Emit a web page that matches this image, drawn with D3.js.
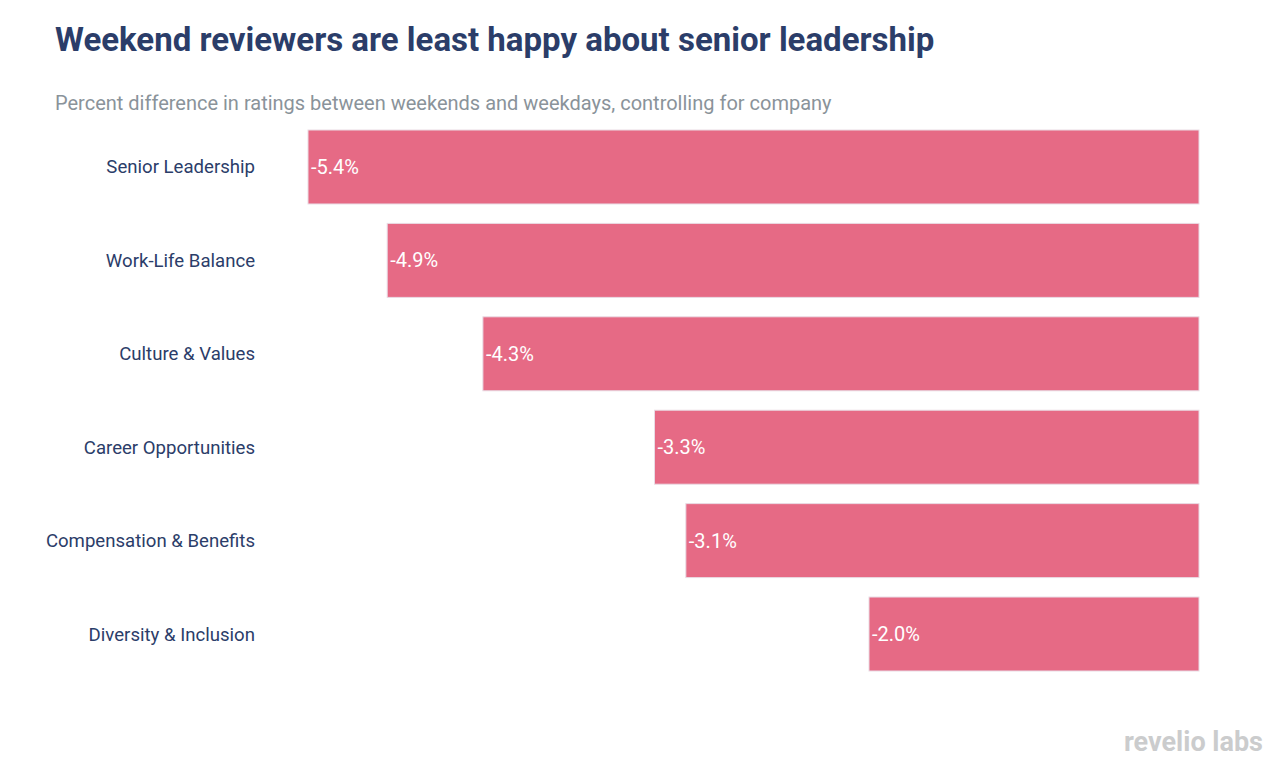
<!DOCTYPE html>
<html>
<head>
    <meta charset="utf-8">
    <title>Weekend reviewers</title>
    <script type="text/javascript" src="https://d3js.org/d3.v7.min.js"></script>
    <style>
      body { margin: 0; background: #fff; font-family: Roboto, "Noto Sans", sans-serif; }
    </style>
</head>
<body>
<script type="text/javascript">
        var width = 1282
        var height = 770

        var categories = ["Senior Leadership", "Work-Life Balance", "Culture & Values",
                          "Career Opportunities", "Compensation & Benefits", "Diversity & Inclusion"]
        var values = [-5.40, -4.92, -4.34, -3.30, -3.11, -2.00]

        var svg = d3.select("body").append("svg").attr("width", width).attr("height", height)

        svg.append("text")
            .attr("x", 55).attr("y", 51)
            .attr("font-size", 33).attr("font-weight", "bold")
            .attr("fill", "#2b3d69")
            .text("Weekend reviewers are least happy about senior leadership")

        svg.append("text")
            .attr("x", 55).attr("y", 110)
            .attr("font-size", 20)
            .attr("fill", "#8a939a")
            .text("Percent difference in ratings between weekends and weekdays, controlling for company")

        var x = d3.scaleLinear().domain([-5.4, 0]).range([308, 1199])
        var y = d3.scaleBand().domain(categories).range([130, 671]).paddingInner(0.208).paddingOuter(0)

        var data = categories.map(function(c, i) { return {cat: c, val: values[i]} })

        svg.selectAll(".bar")
            .data(data)
            .enter()
            .append("rect")
            .attr("class", "bar")
            .attr("x", function(d) { return x(d.val) })
            .attr("y", function(d) { return y(d.cat) })
            .attr("width", function(d) { return x(0) - x(d.val) })
            .attr("height", y.bandwidth())
            .attr("fill", "#e66a85")
            .attr("stroke", "#e9dbe4")
            .attr("stroke-width", 1)

        // plain hyphen like the original, not d3's unicode minus
        var fmt = function(v) { return v.toFixed(1) }
        svg.selectAll(".val")
            .data(data)
            .enter()
            .append("text")
            .attr("class", "val")
            .attr("x", function(d) { return x(d.val) + 3 })
            .attr("y", function(d) { return y(d.cat) + y.bandwidth() / 2 })
            .attr("dy", "0.35em")
            .attr("font-size", 20)
            .attr("fill", "#fff")
            .text(function(d) { return fmt(d.val) + "%" })

        svg.selectAll(".cat")
            .data(data)
            .enter()
            .append("text")
            .attr("class", "cat")
            .attr("x", 255)
            .attr("y", function(d) { return y(d.cat) + y.bandwidth() / 2 })
            .attr("dy", "0.35em")
            .attr("text-anchor", "end")
            .attr("font-size", 18.6)
            .attr("fill", "#2b3d69")
            .text(function(d) { return d.cat })

        svg.append("text")
            .attr("x", 1263).attr("y", 751)
            .attr("text-anchor", "end")
            .attr("font-size", 27).attr("font-weight", "bold")
            .attr("fill", "#cbcccd")
            .text("revelio labs")
</script>
</body>
</html>
